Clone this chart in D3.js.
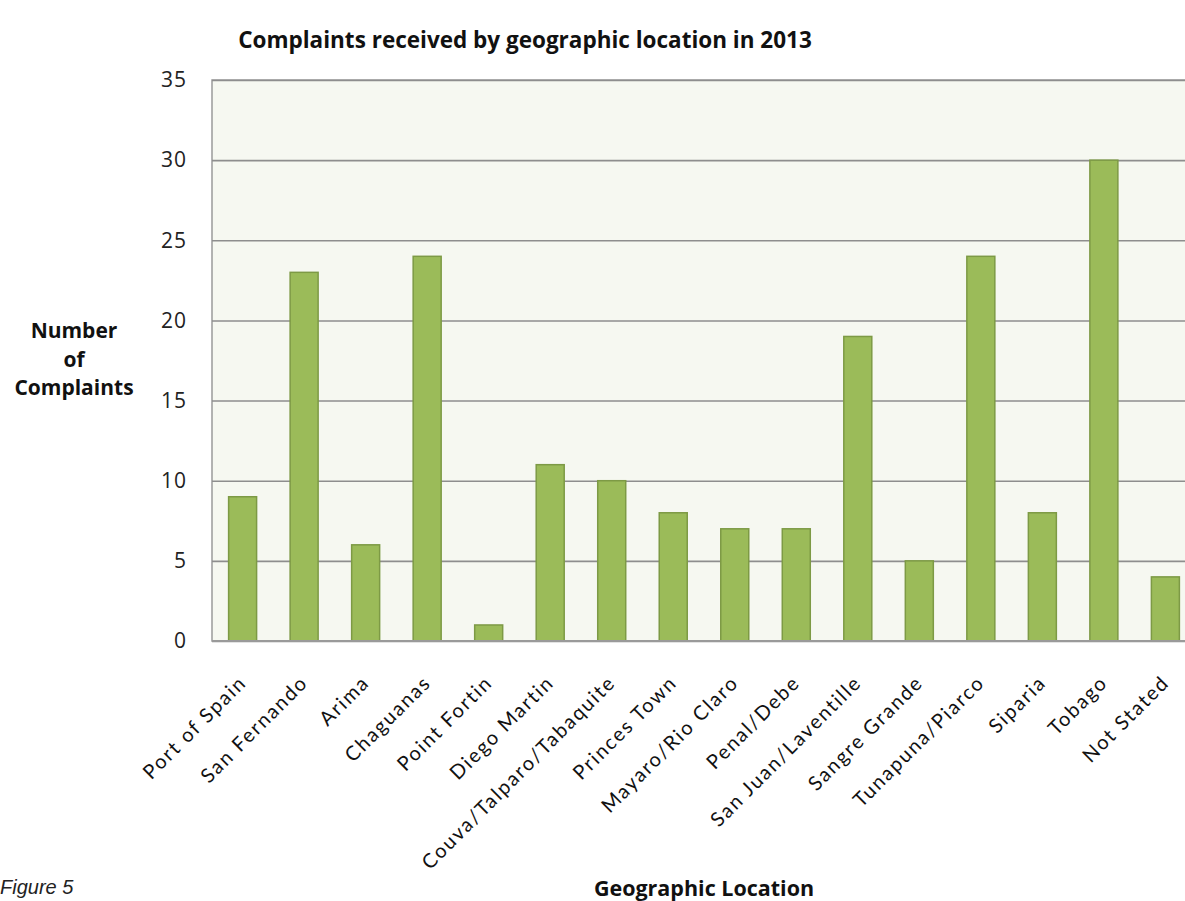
<!DOCTYPE html>
<html><head><meta charset="utf-8">
<script src="https://cdn.jsdelivr.net/npm/d3@7"></script>
<style>body{margin:0;background:#fff;overflow:hidden}svg{display:block}</style>
</head><body>
<script>
const categories = ["Port of Spain","San Fernando","Arima","Chaguanas","Point Fortin","Diego Martin","Couva/Talparo/Tabaquite","Princes Town","Mayaro/Rio Claro","Penal/Debe","San Juan/Laventille","Sangre Grande","Tunapuna/Piarco","Siparia","Tobago","Not Stated"];
const complaints = [9,23,6,24,1,11,10,8,7,7,19,5,24,8,30,4];
const yTicks = [0,5,10,15,20,25,30,35];
const title = "Complaints received by geographic location in 2013";

(function(){
const W = 1185, H = 901;
const svg = d3.select("body").append("svg").attr("width", W).attr("height", H);
const pL = 212, pR = 1196, pT = 80, pB = 641;
const x = d3.scaleBand().domain(categories).range([pL, pR]).paddingInner(0.545).paddingOuter(0.27);
const y = d3.scaleLinear().domain([0, 35]).range([pB, pT]);
const font = "Lato, 'Open Sans', sans-serif";
const font2 = "'Open Sans', Lato, sans-serif";

svg.append("rect").attr("x", pL).attr("y", pT).attr("width", pR-pL).attr("height", pB-pT)
  .attr("fill", "#f6f8f1").attr("stroke", "#9a9a9a").attr("stroke-width", 1.5);

const ya = svg.append("g").attr("transform", `translate(${pL},0)`)
  .call(d3.axisLeft(y).tickValues(yTicks).tickSize(-(pR-pL)).tickPadding(25));
ya.select(".domain").remove();
ya.selectAll(".tick line").attr("stroke", "#8e8e8e").attr("stroke-width", 1.6);
ya.selectAll(".tick text").attr("font-family", font2).attr("font-size", 21).attr("letter-spacing", "1px").attr("fill", "#222");

svg.append("g").selectAll("rect").data(categories).join("rect")
  .attr("x", d => x(d)).attr("width", x.bandwidth())
  .attr("y", (d,i) => y(complaints[i])).attr("height", (d,i) => y(0) - y(complaints[i]))
  .attr("fill", "#9bbb59").attr("stroke", "#7d9a45").attr("stroke-width", 1.5);

svg.append("line").attr("x1", pL).attr("x2", pR).attr("y1", pB).attr("y2", pB)
  .attr("stroke", "#9a9a9a").attr("stroke-width", 1.8);

const xa = svg.append("g").attr("transform", `translate(0,${pB})`)
  .call(d3.axisBottom(x).tickSize(0).tickPadding(0));
xa.select(".domain").remove();
xa.selectAll(".tick text")
  .attr("font-family", font).attr("font-size", 20).attr("fill", "#111")
  .attr("letter-spacing", "1.8px")
  .attr("text-anchor", "end").attr("dy", null).attr("y", 0)
  .attr("transform", "translate(5,43) rotate(-45)");

svg.append("text").attr("x", 525).attr("y", 48).attr("text-anchor", "middle")
  .attr("font-family", font2).attr("font-weight", "bold").attr("font-size", 22.5).attr("fill", "#111").text(title);

const yl = svg.append("text").attr("font-family", font2).attr("font-weight", "bold").attr("font-size", 21)
  .attr("text-anchor", "middle").attr("fill", "#111");
[["Number",338],["of",367],["Complaints",395]].forEach(([t,yy]) => yl.append("tspan").attr("x", 74).attr("y", yy).text(t));

svg.append("text").attr("x", 704).attr("y", 896).attr("text-anchor", "middle")
  .attr("font-family", font2).attr("font-weight", "bold").attr("font-size", 21.5).attr("fill", "#111").text("Geographic Location");

svg.append("text").attr("x", 0).attr("y", 894).attr("font-family", "'Liberation Sans', Arial, sans-serif")
  .attr("font-style", "italic").attr("font-size", 20).attr("fill", "#222").text("Figure 5");
})();
</script>
</body></html>
